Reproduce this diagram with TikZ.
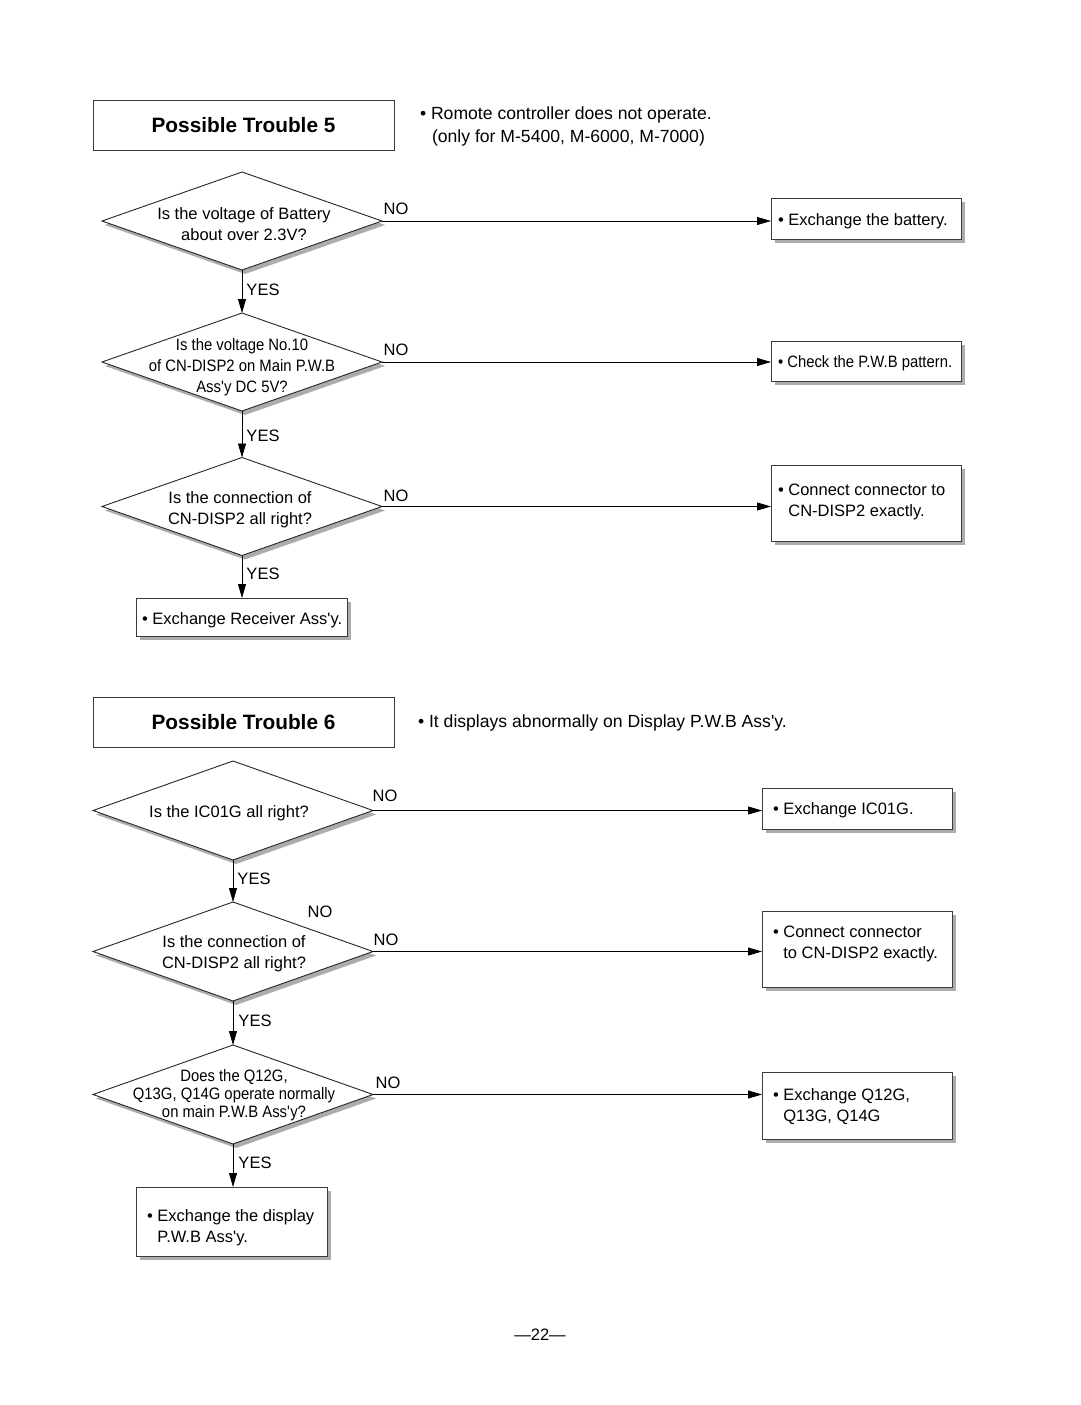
\documentclass[tikz,border=0pt]{standalone}
\usepackage{fontspec}
\setmainfont{Liberation Sans}
\newfontfamily\condfont[FakeStretch=0.9]{Liberation Sans}
\usetikzlibrary{shapes.geometric,arrows.meta,shadows}
\definecolor{shadowgray}{RGB}{172,172,172}
\definecolor{linegray}{RGB}{60,60,60}
\newcommand{\ap}{\textquotesingle}
\begin{document}
\begin{tikzpicture}[x=1pt,y=-1pt,
  every node/.style={font=\fontsize{16.5}{21}\selectfont, inner sep=0pt, outer sep=0pt},
  title/.style={draw=linegray, line width=1pt, rectangle, minimum width=301pt, minimum height=50pt, font=\fontsize{20.8}{24}\selectfont\bfseries},
  dia/.style={draw=black!85, line width=0.9pt, diamond, fill=white, minimum width=280pt, minimum height=98pt,
    drop shadow={shadow xshift=3pt, shadow yshift=-4pt, fill=shadowgray, opacity=1}},
  box/.style={draw=linegray, line width=1pt, rectangle, fill=white, anchor=north west,
    drop shadow={shadow xshift=4pt, shadow yshift=-4pt, fill=shadowgray, opacity=1}},
  flow/.style={line width=0.8pt, -{Triangle[length=14pt,width=8pt]}},
  lab/.style={yshift=-2pt},
  txt/.style={align=left, anchor=west, yshift=-2pt},
  intro/.style={align=left, anchor=west, yshift=-2pt, font=\fontsize{17.6}{22}\selectfont},
  cond/.style={font=\condfont\fontsize{16.5}{21}\selectfont},
  tight/.style={font=\condfont\fontsize{16.5}{18}\selectfont}
]
\useasboundingbox[fill=white] (0,0) rectangle (1080,1405);

% ---------------- Trouble 5 ----------------
\node[title] (t5) at (243.5,125) {Possible Trouble 5};
\node[intro] (t5a) at (420,113) {\textbullet\ Romote controller does not operate.};
\node[intro] (t5b) at (432,136) {(only for M-5400, M-6000, M-7000)};

\node[dia] (d1) at (242,221) {};
\node[align=center, lab] (d1t) at (244,222) {Is the voltage of Battery\\about over 2.3V?};
\node[dia] (d2) at (242,362) {};
\node[align=center, cond, lab] (d2t) at (242,365) {Is the voltage No.10\\of CN-DISP2 on Main P.W.B\\Ass\ap y DC 5V?};
\node[dia] (d3) at (242,506.5) {};
\node[align=center, lab] (d3t) at (240,508) {Is the connection of\\CN-DISP2 all right?};

\node[box, minimum width=190pt, minimum height=41pt] (b1) at (771,198) {};
\node[txt] (b1t) at (778,219) {\textbullet\ Exchange the battery.};
\node[box, minimum width=190pt, minimum height=40pt] (b2) at (771,341) {};
\node[txt, cond] (b2t) at (778,361) {\textbullet\ Check the P.W.B pattern.};
\node[box, minimum width=190pt, minimum height=76pt] (b3) at (771,465) {};
\node[txt] (b3t) at (778,500) {\textbullet\ Connect connector to\\\phantom{\textbullet\ }CN-DISP2 exactly.};
\node[box, minimum width=211pt, minimum height=38pt] (b4) at (136,598) {};
\node[txt] (b4t) at (142,618) {\textbullet\ Exchange Receiver Ass\ap y.};

\draw[flow] (d1.east) -- (d1.east -| b1.west);
\draw[flow] (d2.east) -- (d2.east -| b2.west);
\draw[flow] (d3.east) -- (d3.east -| b3.west);
\draw[flow] (d1.south) -- (d2.north);
\draw[flow] (d2.south) -- (d3.north);
\draw[flow] (d3.south) -- (d3.south |- b4.north);

\node[lab] (n1) at (396,207) {NO};
\node[lab] (n2) at (396,348) {NO};
\node[lab] (n3) at (396,494) {NO};
\node[lab] (y1) at (263,288) {YES};
\node[lab] (y2) at (263,434) {YES};
\node[lab] (y3) at (263,572) {YES};

% ---------------- Trouble 6 ----------------
\node[title] (t6) at (243.5,722.5) {Possible Trouble 6};
\node[intro] (t6a) at (418,721) {\textbullet\ It displays abnormally on Display P.W.B Ass\ap y.};

\node[dia, minimum height=99pt] (d4) at (233,810.5) {};
\node[lab] (d4t) at (229,811) {Is the IC01G all right?};
\node[dia, minimum height=99pt] (d5) at (233,951.5) {};
\node[align=center, lab] (d5t) at (234,952) {Is the connection of\\CN-DISP2 all right?};
\node[dia, minimum height=99pt] (d6) at (233,1094.5) {};
\node[align=center, tight, lab] (d6t) at (234,1093) {Does the Q12G,\\Q13G, Q14G operate normally\\on main P.W.B Ass\ap y?};

\node[box, minimum width=190pt, minimum height=41pt] (b5) at (762,788) {};
\node[txt] (b5t) at (773,808) {\textbullet\ Exchange IC01G.};
\node[box, minimum width=190pt, minimum height=76pt] (b6) at (762,911) {};
\node[txt] (b6t) at (773,942) {\textbullet\ Connect connector\\\phantom{\textbullet\ }to CN-DISP2 exactly.};
\node[box, minimum width=190pt, minimum height=67pt] (b7) at (762,1072) {};
\node[txt] (b7t) at (773,1105) {\textbullet\ Exchange Q12G,\\\phantom{\textbullet\ }Q13G, Q14G};
\node[box, minimum width=191pt, minimum height=69pt] (b8) at (136,1187) {};
\node[txt] (b8t) at (147,1226) {\textbullet\ Exchange the display\\\phantom{\textbullet\ }P.W.B Ass\ap y.};

\draw[flow] (d4.east) -- (d4.east -| b5.west);
\draw[flow] (d5.east) -- (d5.east -| b6.west);
\draw[flow] (d6.east) -- (d6.east -| b7.west);
\draw[flow] (d4.south) -- (d5.north);
\draw[flow] (d5.south) -- (d6.north);
\draw[flow] (d6.south) -- (d6.south |- b8.north);

\node[lab] (n4) at (385,794) {NO};
\node[lab] (n5x) at (320,910) {NO};
\node[lab] (n5) at (386,938) {NO};
\node[lab] (n6) at (388,1081) {NO};
\node[lab] (y4) at (254,877) {YES};
\node[lab] (y5) at (255,1019) {YES};
\node[lab] (y6) at (255,1161) {YES};

\node[lab] (pg) at (540,1333) {—22—};
\end{tikzpicture}
\end{document}
